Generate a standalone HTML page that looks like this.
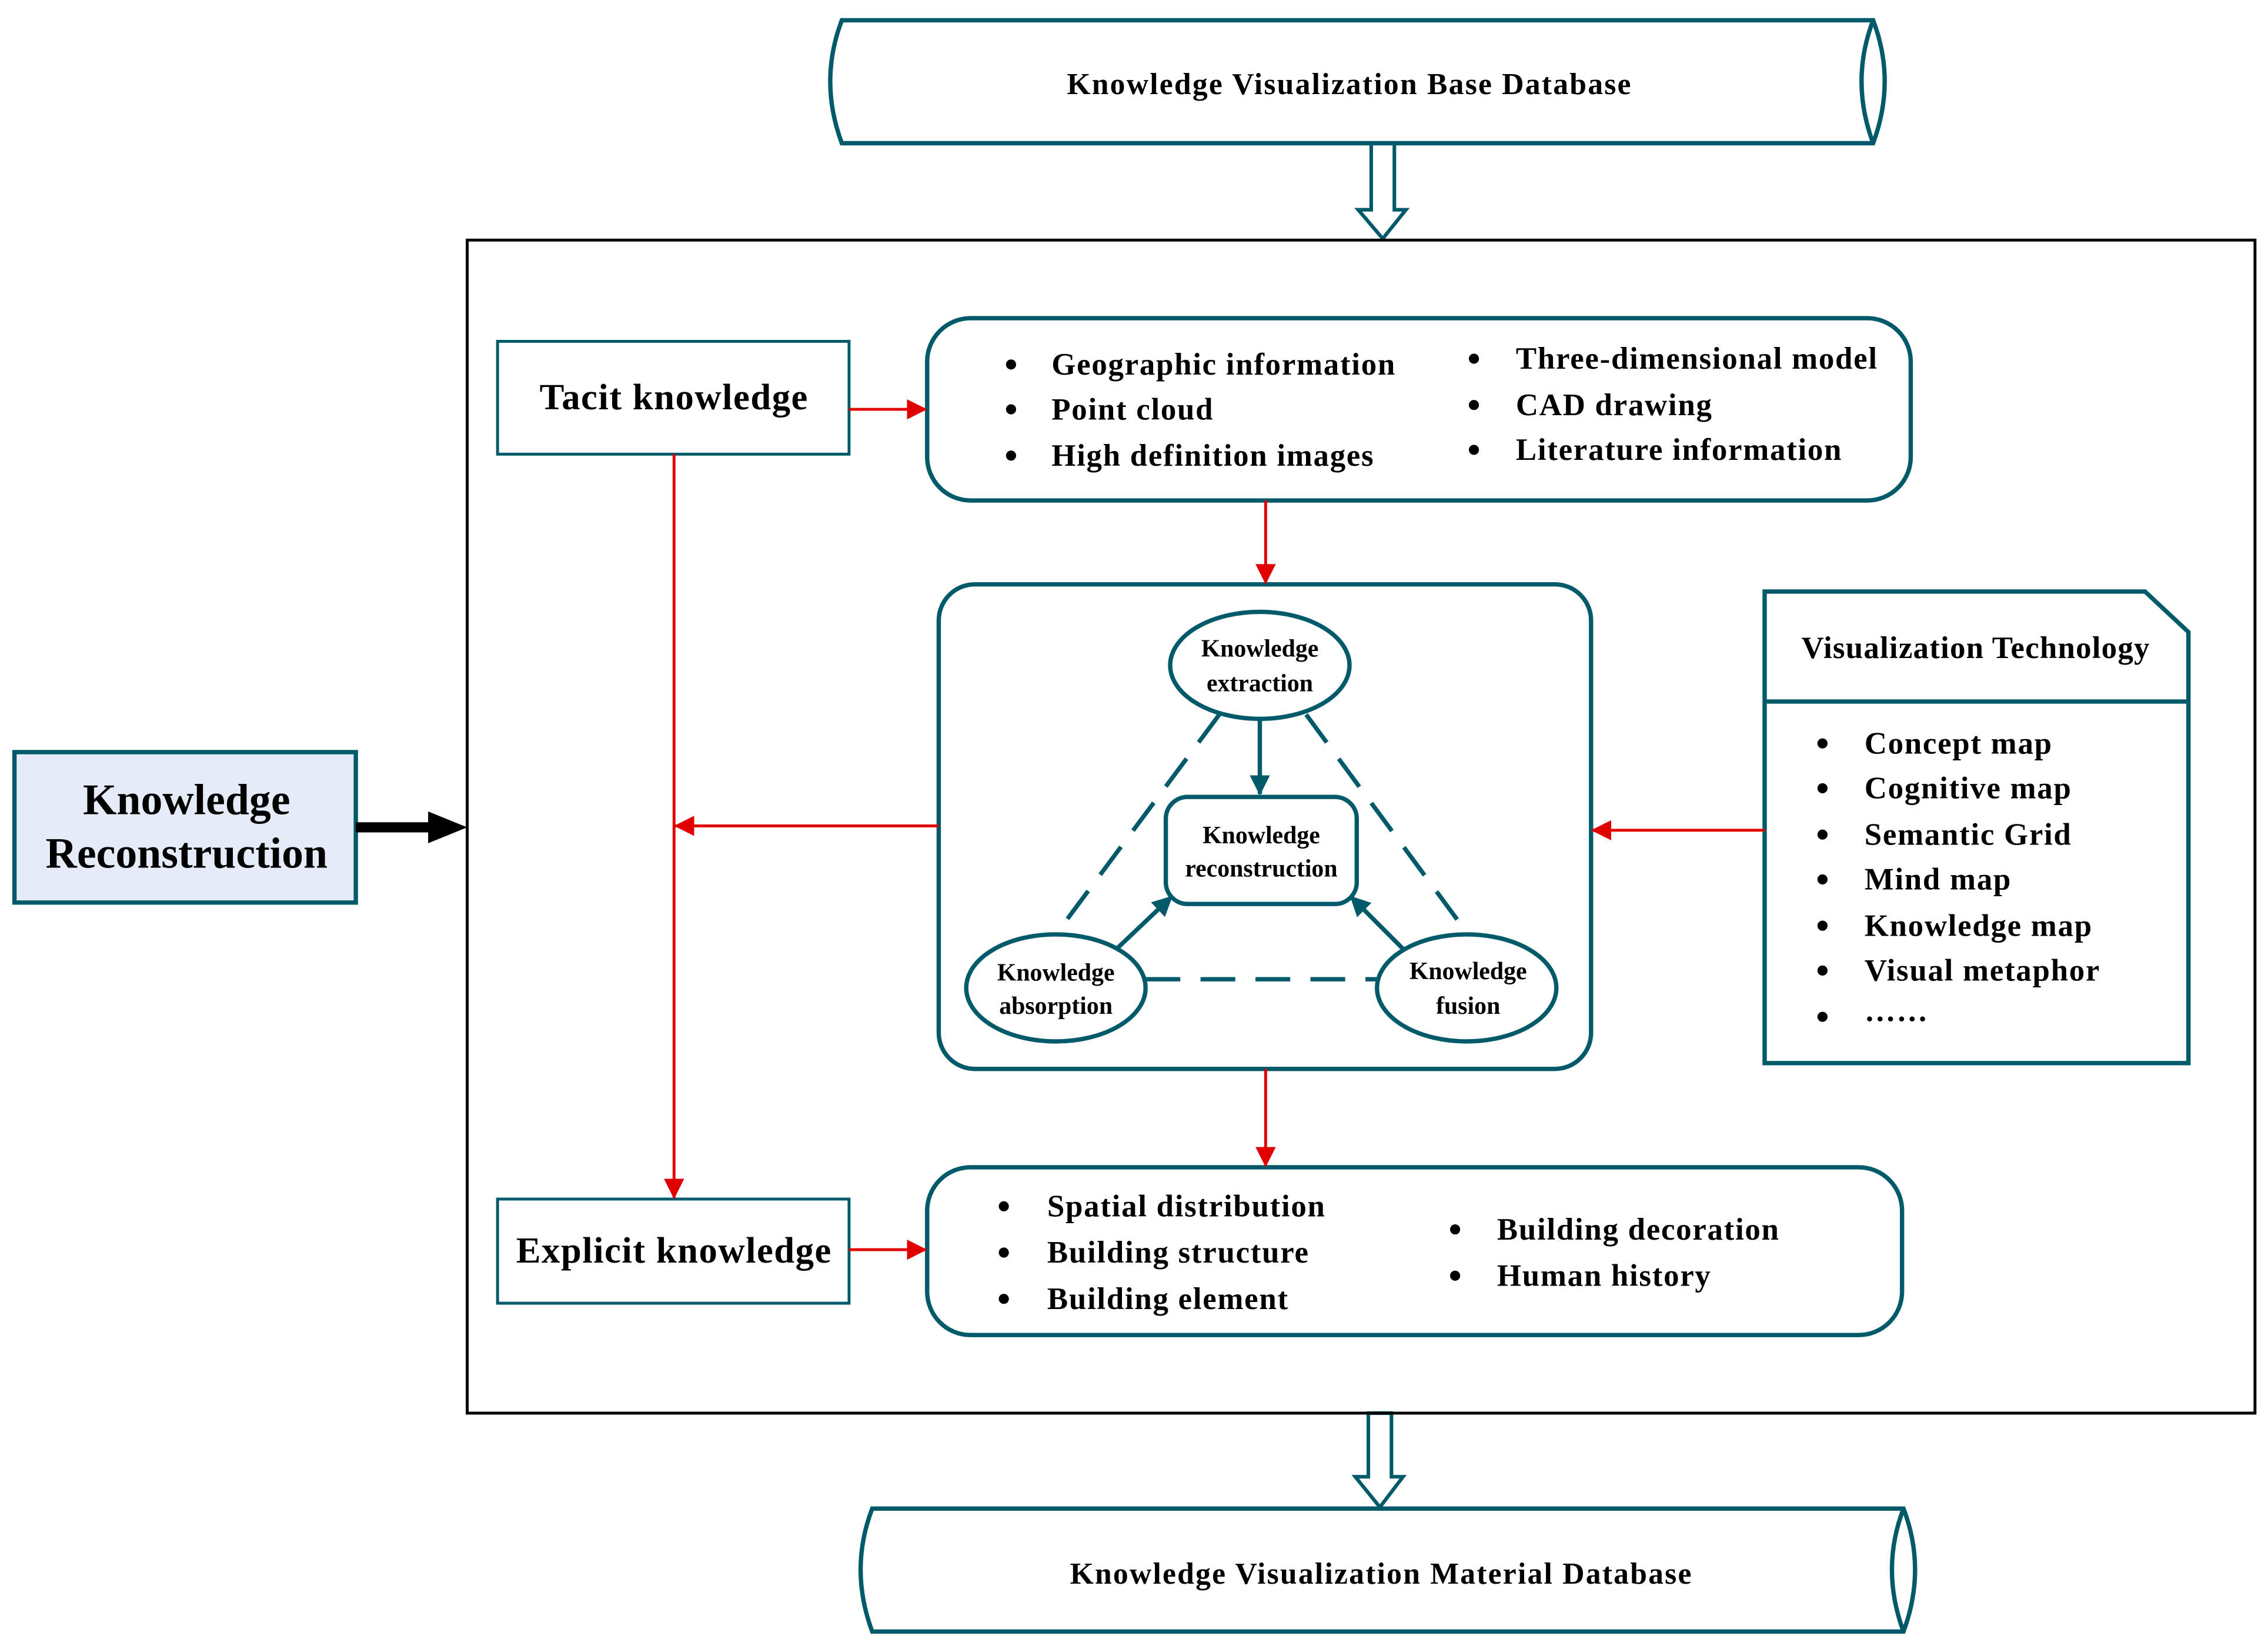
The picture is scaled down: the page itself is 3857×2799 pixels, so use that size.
<!DOCTYPE html>
<html><head><meta charset="utf-8"><style>html,body{margin:0;padding:0;background:#fff}svg{display:block}</style></head>
<body>
<svg width="3857" height="2799" viewBox="0 0 1568 1138" preserveAspectRatio="none" xmlns="http://www.w3.org/2000/svg" font-family="'Liberation Serif',serif" font-weight="bold">
<defs>
<marker id="r" markerWidth="14" markerHeight="14" refX="13" refY="7" orient="auto" markerUnits="userSpaceOnUse" viewBox="0 0 14 14"><path d="M0,0 L14,7 L0,14 z" fill="#e00000"/></marker>
<marker id="t" markerWidth="14" markerHeight="14" refX="13" refY="7" orient="auto" markerUnits="userSpaceOnUse" viewBox="0 0 14 14"><path d="M0,0 L14,7 L0,14 z" fill="#005a6a"/></marker>
</defs>
<g fill="none" stroke="#005a6a" stroke-width="3">
<path d="M582,14 L1295,14 Q1311,56 1295,99 L582,99 Q566,56 582,14 Z"/>
<path d="M1295,14 Q1279,56 1295,99"/>
<path d="M603,1043 L1316,1043 Q1332,1085 1316,1128 L603,1128 Q587,1085 603,1043 Z"/>
<path d="M1316,1043 Q1300,1085 1316,1128"/>
<path d="M948,99 L964,99 L964,145 L972,145 L956,165 L939,145 L948,145 Z" stroke-width="2.5"/>
<path d="M946,977 L962,977 L962,1021 L970,1021 L954,1042 L937,1021 L946,1021 Z" stroke-width="2.5"/>
<rect x="344" y="236" width="243" height="78" stroke-width="2"/>
<rect x="344" y="829" width="243" height="72" stroke-width="2"/>
<rect x="641" y="220" width="680" height="126" rx="30"/>
<rect x="641" y="807" width="674" height="116" rx="30"/>
<rect x="649" y="404" width="451" height="335" rx="25"/>
<path d="M1220,409 L1483,409 L1513,437 L1513,735 L1220,735 Z"/>
<line x1="1220" y1="485" x2="1513" y2="485"/>
<rect x="806" y="551" width="132" height="74" rx="15"/>
<ellipse cx="871" cy="460" rx="62" ry="37"/>
<ellipse cx="730" cy="683" rx="62" ry="37"/>
<ellipse cx="1014" cy="683" rx="62" ry="37"/>
<g stroke-dasharray="24,14">
<line x1="843" y1="494" x2="730" y2="646"/>
<line x1="903" y1="494" x2="1015" y2="646"/>
<line x1="792" y1="677" x2="952" y2="677"/>
</g>
<line x1="871" y1="497" x2="871" y2="549" marker-end="url(#t)"/>
<line x1="772" y1="656" x2="810" y2="620" marker-end="url(#t)"/>
<line x1="970" y1="656" x2="934" y2="620" marker-end="url(#t)"/>
</g>
<rect x="323" y="166" width="1236" height="811" fill="none" stroke="#000" stroke-width="2"/>
<rect x="10" y="520" width="236" height="104" fill="#e6ecf7" stroke="#005a6a" stroke-width="3"/>
<path d="M246,572 L298,572" stroke="#000" stroke-width="7"/>
<path d="M296,561 L323,572 L296,583 Z" fill="#000"/>
<g stroke="#e00000" stroke-width="2" fill="none">
<line x1="587" y1="283" x2="640" y2="283" marker-end="url(#r)"/>
<line x1="875" y1="346" x2="875" y2="403" marker-end="url(#r)"/>
<line x1="466" y1="314" x2="466" y2="828" marker-end="url(#r)"/>
<line x1="649" y1="571" x2="467" y2="571" marker-end="url(#r)"/>
<line x1="1220" y1="574" x2="1101" y2="574" marker-end="url(#r)"/>
<line x1="587" y1="864" x2="640" y2="864" marker-end="url(#r)"/>
<line x1="875" y1="739" x2="875" y2="806" marker-end="url(#r)"/>
</g>
<g fill="#000" text-anchor="middle">
<text x="933" y="65" font-size="21" letter-spacing="0.9">Knowledge Visualization Base Database</text>
<text x="955" y="1095" font-size="21" letter-spacing="0.9">Knowledge Visualization Material Database</text>
<text x="466" y="283" font-size="25.5" letter-spacing="0.6">Tacit knowledge</text>
<text x="466" y="873" font-size="25.5" letter-spacing="0.6">Explicit knowledge</text>
<text x="129" y="563" font-size="30">Knowledge</text>
<text x="129" y="600" font-size="30">Reconstruction</text>
<text x="1366" y="455" font-size="21.5" letter-spacing="0.5">Visualization Technology</text>
<g font-size="17">
<text x="871" y="454">Knowledge</text><text x="871" y="478">extraction</text>
<text x="872" y="583">Knowledge</text><text x="872" y="606">reconstruction</text>
<text x="730" y="678">Knowledge</text><text x="730" y="701">absorption</text>
<text x="1015" y="677">Knowledge</text><text x="1015" y="701">fusion</text>
</g>
</g>
<g fill="#000" font-size="21.5" letter-spacing="0.7">
<circle cx="699" cy="252" r="3.5"/><text x="727" y="259">Geographic information</text>
<circle cx="699" cy="283" r="3.5"/><text x="727" y="290">Point cloud</text>
<circle cx="699" cy="315" r="3.5"/><text x="727" y="322">High definition images</text>
<circle cx="1019" cy="248" r="3.5"/><text x="1048" y="255">Three-dimensional model</text>
<circle cx="1019" cy="280" r="3.5"/><text x="1048" y="287">CAD drawing</text>
<circle cx="1019" cy="311" r="3.5"/><text x="1048" y="318">Literature information</text>
<circle cx="694" cy="834" r="3.5"/><text x="724" y="841">Spatial distribution</text>
<circle cx="694" cy="866" r="3.5"/><text x="724" y="873">Building structure</text>
<circle cx="694" cy="898" r="3.5"/><text x="724" y="905">Building element</text>
<circle cx="1006" cy="850" r="3.5"/><text x="1035" y="857">Building decoration</text>
<circle cx="1006" cy="882" r="3.5"/><text x="1035" y="889">Human history</text>
<circle cx="1260" cy="514" r="3.5"/><text x="1289" y="521">Concept map</text>
<circle cx="1260" cy="545" r="3.5"/><text x="1289" y="552">Cognitive map</text>
<circle cx="1260" cy="577" r="3.5"/><text x="1289" y="584">Semantic Grid</text>
<circle cx="1260" cy="608" r="3.5"/><text x="1289" y="615">Mind map</text>
<circle cx="1260" cy="640" r="3.5"/><text x="1289" y="647">Knowledge map</text>
<circle cx="1260" cy="671" r="3.5"/><text x="1289" y="678">Visual metaphor</text>
<circle cx="1260" cy="703" r="3.5"/><text x="1289" y="706">……</text>
</g>
</svg>
</body></html>
